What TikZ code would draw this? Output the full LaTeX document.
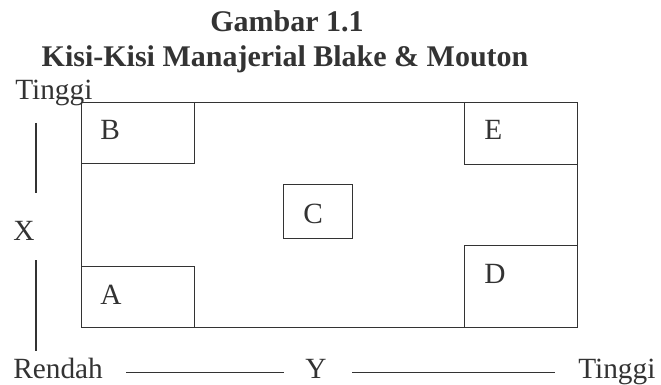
\documentclass[tikz,border=0pt]{standalone}
\usepackage{fontspec}
\setmainfont{Liberation Serif}
\begin{document}
\begin{tikzpicture}[x=0.75pt,y=-0.75pt,
  ink/.style={draw=black!80, line width=1.1pt},
  lbl/.style={inner sep=0pt, anchor=base west, text=black!80, font=\fontsize{22}{26}\selectfont},
  ttl/.style={inner sep=0pt, anchor=base, text=black!80, font=\fontsize{22.5}{27}\selectfont\bfseries},
  boxnode/.style={ink, inner sep=0pt, anchor=north west}]
\useasboundingbox (0,0) rectangle (661,385);
% title
\node[ttl] (t1) at (287,31.7) {Gambar 1.1};
\node[ttl] (t2) at (285,66.7) {Kisi-Kisi Manajerial Blake \& Mouton};
% main grid
\node[boxnode, minimum width=496*0.75pt, minimum height=225*0.75pt] (grid) at (81,102) {};
\node[boxnode, minimum width=113*0.75pt, minimum height=61*0.75pt] (bB) at (81,102) {};
\node[boxnode, minimum width=113*0.75pt, minimum height=62*0.75pt] (bE) at (464,102) {};
\node[boxnode, minimum width=113*0.75pt, minimum height=61*0.75pt] (bA) at (81,266) {};
\node[boxnode, minimum width=113*0.75pt, minimum height=82*0.75pt] (bD) at (464,245) {};
\node[boxnode, minimum width=69*0.75pt, minimum height=54*0.75pt] (bC) at (283,184) {};
% letters
\node[lbl] (lB) at (100,140) {B};
\node[lbl] (lE) at (484,140) {E};
\node[lbl] (lA) at (100,304) {A};
\node[lbl] (lD) at (484,283) {D};
\node[lbl] (lC) at (303,223) {C};
% axis labels
\node[lbl] (tinggiL) at (15,100) {Tinggi};
\node[lbl] (xlab) at (13,240) {X};
\node[lbl] (rendah) at (13,378) {Rendah};
\node[lbl] (ylab) at (305,378) {Y};
\node[lbl] (tinggiR) at (578,378) {Tinggi};
% axis line end points
\coordinate (v1a) at (36,123);
\coordinate (v1b) at (36,193);
\coordinate (v2a) at (36,260);
\coordinate (v2b) at (36,351);
\coordinate (h1a) at (126,372.7);
\coordinate (h1b) at (284,372.7);
\coordinate (h2a) at (352,372.7);
\coordinate (h2b) at (555,372.7);
\draw[ink] (v1a) -- (v1b);
\draw[ink] (v2a) -- (v2b);
\draw[ink] (h1a) -- (h1b);
\draw[ink] (h2a) -- (h2b);
\end{tikzpicture}
\end{document}
